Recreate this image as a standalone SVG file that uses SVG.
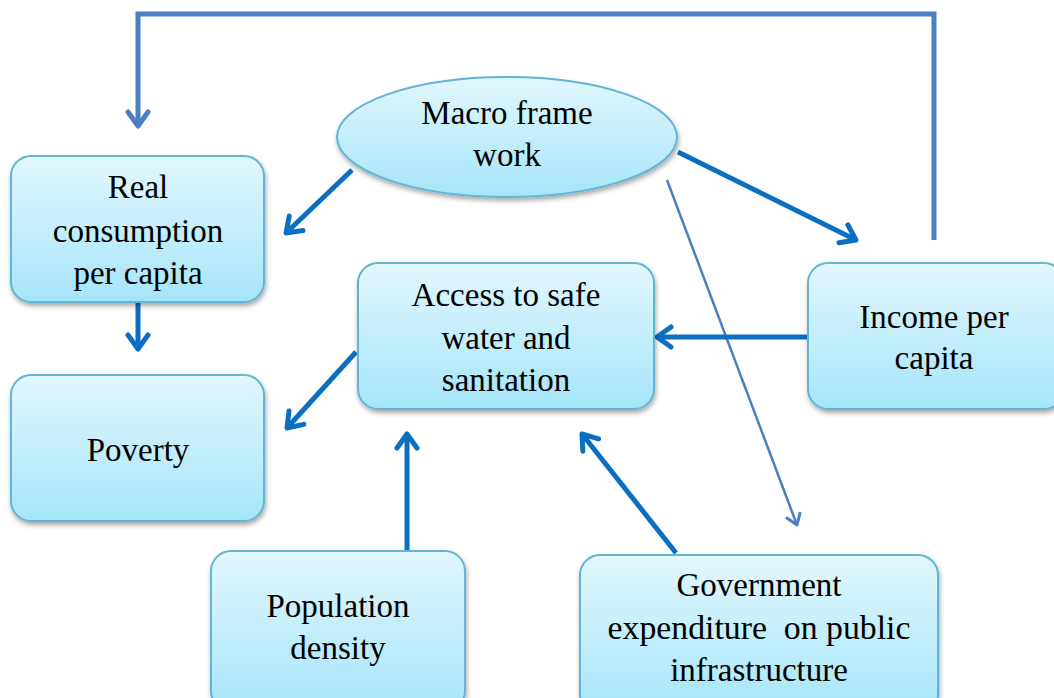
<svg xmlns="http://www.w3.org/2000/svg" width="1054" height="698" viewBox="0 0 1054 698">
<style>
.box{fill:url(#g);stroke:#62b5d4;stroke-width:2;filter:url(#sh)}
text{font-family:'Liberation Serif','Times New Roman',Times,'DejaVu Serif',serif;font-size:33px;fill:#000;text-anchor:middle}
.c{fill:none;stroke:#0a6fc2;stroke-width:5}
.c2{fill:none;stroke:#4a7fc1;stroke-width:5}
.c3{fill:none;stroke:#4a7fc1;stroke-width:2.5}
</style>
<defs>
<linearGradient id="g" x1="0" y1="0" x2="0" y2="1">
<stop offset="0" stop-color="#e2f7fd"/>
<stop offset="1" stop-color="#a5e5f9"/>
</linearGradient>
<filter id="sh" x="-10%" y="-10%" width="120%" height="130%">
<feGaussianBlur in="SourceAlpha" stdDeviation="2.5"/>
<feOffset dx="1" dy="3" result="b"/>
<feComponentTransfer><feFuncA type="linear" slope="0.35"/></feComponentTransfer>
<feMerge><feMergeNode/><feMergeNode in="SourceGraphic"/></feMerge>
</filter>
<marker id="a" markerUnits="userSpaceOnUse" viewBox="0 0 26 26" markerWidth="26" markerHeight="26" refX="21" refY="13" orient="auto">
<path d="M7,3 L21,13 L7,23" fill="none" stroke="#0a6fc2" stroke-width="5" stroke-linecap="round" stroke-linejoin="round"/>
</marker>
<marker id="a2" markerUnits="userSpaceOnUse" viewBox="0 0 26 26" markerWidth="26" markerHeight="26" refX="21" refY="13" orient="auto">
<path d="M7,3 L21,13 L7,23" fill="none" stroke="#4a7fc1" stroke-width="5" stroke-linecap="round" stroke-linejoin="round"/>
</marker>
<marker id="a3" markerUnits="userSpaceOnUse" viewBox="0 0 20 20" markerWidth="20" markerHeight="20" refX="16" refY="10" orient="auto">
<path d="M6,3 L16,10 L6,17" fill="none" stroke="#4a7fc1" stroke-width="3" stroke-linecap="round" stroke-linejoin="round"/>
</marker>
</defs>
<rect width="1054" height="698" fill="#fff"/>
<g id="connectors">
<path class="c2" d="M934,240 V14 H138 V126" marker-end="url(#a2)"/>
<line class="c" x1="352" y1="170" x2="286" y2="233" marker-end="url(#a)"/>
<line class="c" x1="678" y1="152" x2="856" y2="240" marker-end="url(#a)"/>
<line class="c3" x1="667" y1="180" x2="797" y2="525" marker-end="url(#a3)"/>
<line class="c" x1="138" y1="302" x2="138" y2="349" marker-end="url(#a)"/>
<line class="c" x1="808" y1="337" x2="657" y2="337" marker-end="url(#a)"/>
<line class="c" x1="356" y1="352" x2="287" y2="428" marker-end="url(#a)"/>
<line class="c" x1="407" y1="551" x2="407" y2="434" marker-end="url(#a)"/>
<line class="c" x1="676" y1="553" x2="582" y2="434" marker-end="url(#a)"/>
</g>
<g id="macro">
<ellipse class="box" cx="507" cy="137" rx="170" ry="60"/>
<text x="507" y="124">Macro frame</text>
<text x="507" y="166">work</text>
</g>
<g id="real">
<rect class="box" x="11" y="156" width="253" height="146" rx="20"/>
<text x="138" y="198">Real</text>
<text x="138" y="242">consumption</text>
<text x="138" y="284">per capita</text>
</g>
<g id="poverty">
<rect class="box" x="11" y="375" width="253" height="146" rx="20"/>
<text x="138" y="461">Poverty</text>
</g>
<g id="access">
<rect class="box" x="358" y="263" width="296" height="146" rx="20"/>
<text x="506" y="306">Access to safe</text>
<text x="506" y="349">water and</text>
<text x="506" y="391">sanitation</text>
</g>
<g id="income">
<rect class="box" x="808" y="263" width="256" height="146" rx="20"/>
<text x="934" y="328">Income per</text>
<text x="934" y="369">capita</text>
</g>
<g id="population">
<rect class="box" x="211" y="551" width="254" height="160" rx="20"/>
<text x="338" y="617">Population</text>
<text x="338" y="659">density</text>
</g>
<g id="government">
<rect class="box" x="580" y="555" width="358" height="160" rx="20"/>
<text x="759" y="596">Government</text>
<text x="759" y="639" textLength="303" lengthAdjust="spacingAndGlyphs" xml:space="preserve">expenditure  on public</text>
<text x="759" y="681">infrastructure</text>
</g>
</svg>
